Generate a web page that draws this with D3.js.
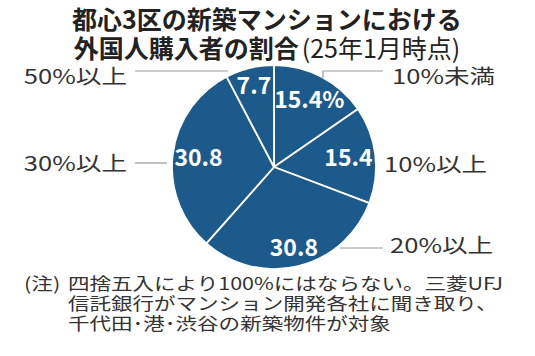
<!DOCTYPE html>
<html><head><meta charset="utf-8">
<script src="https://cdn.jsdelivr.net/npm/d3@7"></script>
<style>
body{margin:0;background:#fff;}
svg{display:block;}
text{font-family:"Noto Sans CJK JP","Noto Sans",sans-serif;}
</style></head>
<body>
<svg id="c" width="535" height="356"></svg>
<script>
// Data
const categories = ["10%未満", "10%以上", "20%以上", "30%以上", "50%以上"];
const values = [15.4, 15.4, 30.8, 30.8, 7.7];
const valueLabels = ["15.4%", "15.4", "30.8", "30.8", "7.7"];
const titleLine1 = "都心3区の新築マンションにおける";
const titleLine2a = "外国人購入者の割合";
const titleLine2b = "(25年1月時点)";
const notePrefix = "(注)";
const noteLines = ["四捨五入により100%にはならない。三菱UFJ", "信託銀行がマンション開発各社に聞き取り、", "千代田･港･渋谷の新築物件が対象"];

// Layout
const cx = 274, cy = 167, R = 102;
const fill = "#1d5a8c";
const sx = 1.28; // horizontal stretch of the reference's label type
const outerLayout = [
  {x: 392, y: 77, anchor: "start", line: [[323, 78], [323, 71], [383, 71]]},
  {x: 384, y: 165, anchor: "start", line: null},
  {x: 390, y: 246, anchor: "start", line: [[340, 248], [383, 248]]},
  {x: 127, y: 164, anchor: "end", line: [[135, 163], [167, 163]]},
  {x: 127, y: 77, anchor: "end", line: [[135, 71], [228, 71]]}
];
const innerRadius = [76, 75, 83, 76, 84];

const svg = d3.select("#c");

// Title
svg.append("text").attr("x", 267).attr("y", 29).attr("text-anchor", "middle")
  .attr("font-size", 25).attr("font-weight", "bold").attr("fill", "#222").text(titleLine1);
const t2 = svg.append("text").attr("x", 267).attr("y", 58).attr("text-anchor", "middle")
  .attr("font-size", 25).attr("fill", "#222");
t2.append("tspan").attr("font-weight", "bold").text(titleLine2a);
t2.append("tspan").attr("font-weight", "normal").attr("dx", 3).text(titleLine2b);

// Pie
const pie = d3.pie().sort(null).value(d => d)(values);
const arc = d3.arc().innerRadius(0).outerRadius(R);
const g = svg.append("g").attr("transform", `translate(${cx},${cy})`);
g.selectAll("path").data(pie).join("path")
  .attr("d", arc).attr("fill", fill).attr("stroke", "#fff").attr("stroke-width", 1.8)
  .attr("stroke-linejoin", "round");

g.selectAll("text.v").data(pie).join("text").attr("class", "v")
  .attr("transform", (d, i) => {
    const a = (d.startAngle + d.endAngle) / 2;
    const r = innerRadius[i];
    return `translate(${Math.sin(a) * r},${-Math.cos(a) * r})`;
  })
  .attr("text-anchor", "middle").attr("dy", "0.36em")
  .attr("font-size", 23).attr("font-weight", "bold").attr("fill", "#fff")
  .text((d, i) => valueLabels[i]);

// Outer labels & leaders
const line = d3.line();
outerLayout.forEach((L, i) => {
  if (L.line) {
    svg.append("path").attr("d", line(L.line)).attr("fill", "none")
      .attr("stroke", "#999").attr("stroke-width", 1.2);
  }
  svg.append("text").attr("transform", `translate(${L.x},${L.y}) scale(${sx},1)`)
    .attr("dy", "0.36em")
    .attr("text-anchor", L.anchor).attr("font-size", 20).attr("fill", "#333")
    .text(categories[i]);
});

// Note
const noteY = [284, 304, 324];
svg.append("text").attr("transform", `translate(24,${noteY[0]}) scale(1.24,1)`)
  .attr("dy", "0.36em").attr("font-size", 17.5).attr("fill", "#333").text(notePrefix);
noteLines.forEach((s, i) => {
  svg.append("text").attr("transform", `translate(68,${noteY[i]}) scale(1.23,1)`)
    .attr("dy", "0.36em").attr("font-size", 17.5).attr("fill", "#333").text(s);
});
</script>
</body></html>
